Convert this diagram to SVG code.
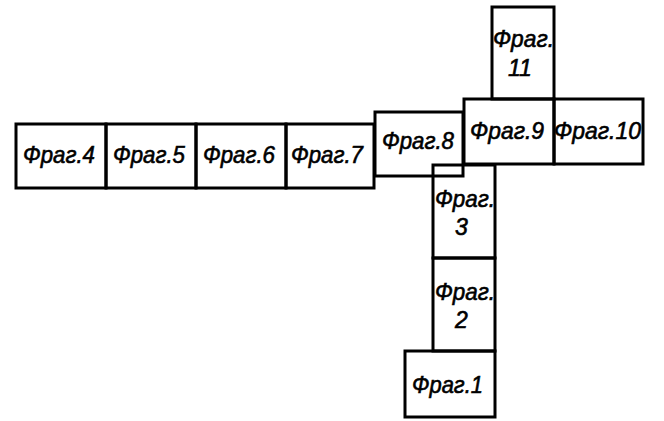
<svg xmlns="http://www.w3.org/2000/svg" width="664" height="421" viewBox="0 0 664 421">
<style>
rect{fill:none;stroke:#000;stroke-width:3;stroke-linejoin:miter}
text{font-family:"Liberation Sans",Arial,sans-serif;font-style:italic;font-size:23px;fill:#000;stroke:#000;stroke-width:0.6}
</style>
<rect x="0" y="0" width="664" height="421" style="fill:#fff;stroke:none"/>
<g id="frag4"><rect x="16" y="124" width="90" height="64"/><text x="23" y="163" textLength="72" lengthAdjust="spacingAndGlyphs">Фраг.4</text></g>
<g id="frag5"><rect x="106" y="124" width="90" height="64"/><text x="113" y="163" textLength="72" lengthAdjust="spacingAndGlyphs">Фраг.5</text></g>
<g id="frag6"><rect x="196" y="124" width="90" height="64"/><text x="203" y="163" textLength="72" lengthAdjust="spacingAndGlyphs">Фраг.6</text></g>
<g id="frag7"><rect x="286" y="124" width="88" height="64"/><text x="291" y="163" textLength="72" lengthAdjust="spacingAndGlyphs">Фраг.7</text></g>
<g id="frag8"><rect x="375" y="112" width="88" height="64"/><text x="382" y="149" textLength="72" lengthAdjust="spacingAndGlyphs">Фраг.8</text></g>
<g id="frag9"><rect x="464" y="99" width="90" height="65"/><text x="470" y="139" textLength="74" lengthAdjust="spacingAndGlyphs">Фраг.9</text></g>
<g id="frag10"><rect x="554" y="99" width="89" height="65"/><text x="554" y="139" textLength="87" lengthAdjust="spacingAndGlyphs">Фраг.10</text></g>
<g id="frag11"><rect x="492" y="7" width="62" height="92"/><text x="493" y="47" textLength="61" lengthAdjust="spacingAndGlyphs">Фраг.</text><text x="508" y="76">11</text></g>
<g id="frag3"><rect x="433" y="165" width="62" height="93"/><text x="435" y="207" textLength="60" lengthAdjust="spacingAndGlyphs">Фраг.</text><text x="455" y="235">3</text></g>
<g id="frag2"><rect x="433" y="258" width="62" height="93"/><text x="435" y="300" textLength="60" lengthAdjust="spacingAndGlyphs">Фраг.</text><text x="455" y="328">2</text></g>
<g id="frag1"><rect x="405" y="351" width="90" height="66"/><text x="412" y="393" textLength="71" lengthAdjust="spacingAndGlyphs">Фраг.1</text></g>
<g id="connectors"></g>
</svg>
